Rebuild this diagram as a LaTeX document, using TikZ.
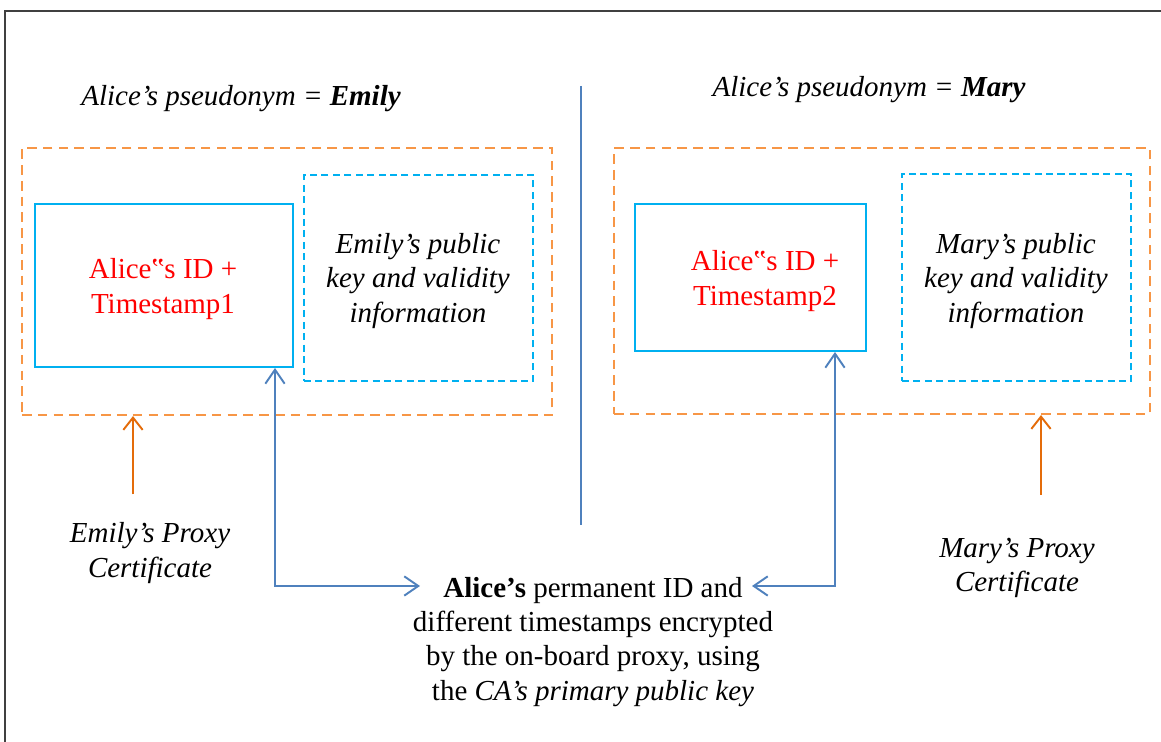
\documentclass[tikz,border=0pt]{standalone}
\usepackage{fontspec}
\setmainfont{Liberation Serif}
\usepackage{tikz}
\usetikzlibrary{arrows.meta,fit}
\definecolor{ppOrange}{HTML}{F79646}
\definecolor{ppArrow}{HTML}{E46C0A}
\definecolor{ppCyan}{HTML}{00B0F0}
\definecolor{ppBlue}{HTML}{4F81BD}
\newcommand{\ppfont}{\fontsize{16.5}{19.4}\selectfont}

\begin{document}
\begin{tikzpicture}[x=0.02cm,y=-0.02cm,
  txt/.style={align=center,font=\ppfont,inner sep=0pt},
  certbox/.style={draw=ppOrange,line width=1.2pt,dash pattern=on 5.5pt off 3.5pt,inner sep=0pt},
  idbox/.style={draw=ppCyan,line width=1.1pt,inner sep=0pt},
  keybox/.style={draw=ppCyan,line width=1.1pt,dash pattern=on 4pt off 2.5pt,inner sep=0pt},
  linkarr/.style={draw=ppBlue,line width=1.1pt,{Straight Barb[length=8pt,width=11pt]}-{Straight Barb[length=8pt,width=11pt]}},
  certarr/.style={draw=ppArrow,line width=1.1pt,-{Straight Barb[length=7pt,width=11pt]}}]
\useasboundingbox (0,0) rectangle (1161,742);
\clip (0,0) rectangle (1161,742);
% frame
\draw[black!75,line width=1.2pt] (5,11) rectangle (1180,760);
% titles and divider
\node[txt] (ltitle) at (241,99) {\itshape Alice's pseudonym = \textbf{Emily}};
\node[txt] (rtitle) at (869,90) {\itshape Alice's pseudonym = \textbf{Mary}};
\draw[ppBlue,line width=1.1pt] (581,86) -- (581,525);
% left certificate
\node[certbox,fit={(22,148) (552,415)}] (lcert) {};
\node[idbox,fit={(35,204) (293,367)}] (lid) {};
\node[keybox,fit={(304,175) (533,381)}] (lkey) {};
\node[txt,text=red] (lidtxt) at (163,289) {Alice‟s ID +\\Timestamp1};
\node[txt] (lkeytxt) at (418,281) {\itshape Emily's public\\\itshape key and validity\\\itshape information};
% right certificate
\node[certbox,fit={(614,148) (1150,414)}] (rcert) {};
\node[idbox,fit={(635,204) (866,351)}] (rid) {};
\node[keybox,fit={(902,174) (1131,381)}] (rkey) {};
\node[txt,text=red] (ridtxt) at (765,281) {Alice‟s ID +\\Timestamp2};
\node[txt] (rkeytxt) at (1016,281) {\itshape Mary's public\\\itshape key and validity\\\itshape information};
% proxy certificate labels
\node[txt] (lname) at (150,553) {\itshape Emily's Proxy\\\itshape Certificate};
\node[txt] (rname) at (1017,568) {\itshape Mary's Proxy\\\itshape Certificate};
\draw[certarr] (lname.north -| 133,0) ++(0,-28) -- (lcert.south -| 133,0);
\draw[certarr] (rname.north -| 1041,0) ++(0,-43) -- (rcert.south -| 1041,0);
% encrypted message
\node[txt] (amsg) at (593,642) {\textbf{Alice's} permanent ID and\\different timestamps encrypted\\by the on-board proxy, using\\the \textit{CA's primary public key}};
\coordinate (lend) at (420,586);
\coordinate (rend) at (752,586);
\draw[linkarr] (lid.south -| 275,0) |- (lend);
\draw[linkarr] (rid.south -| 835,0) |- (rend);
\end{tikzpicture}
\end{document}
